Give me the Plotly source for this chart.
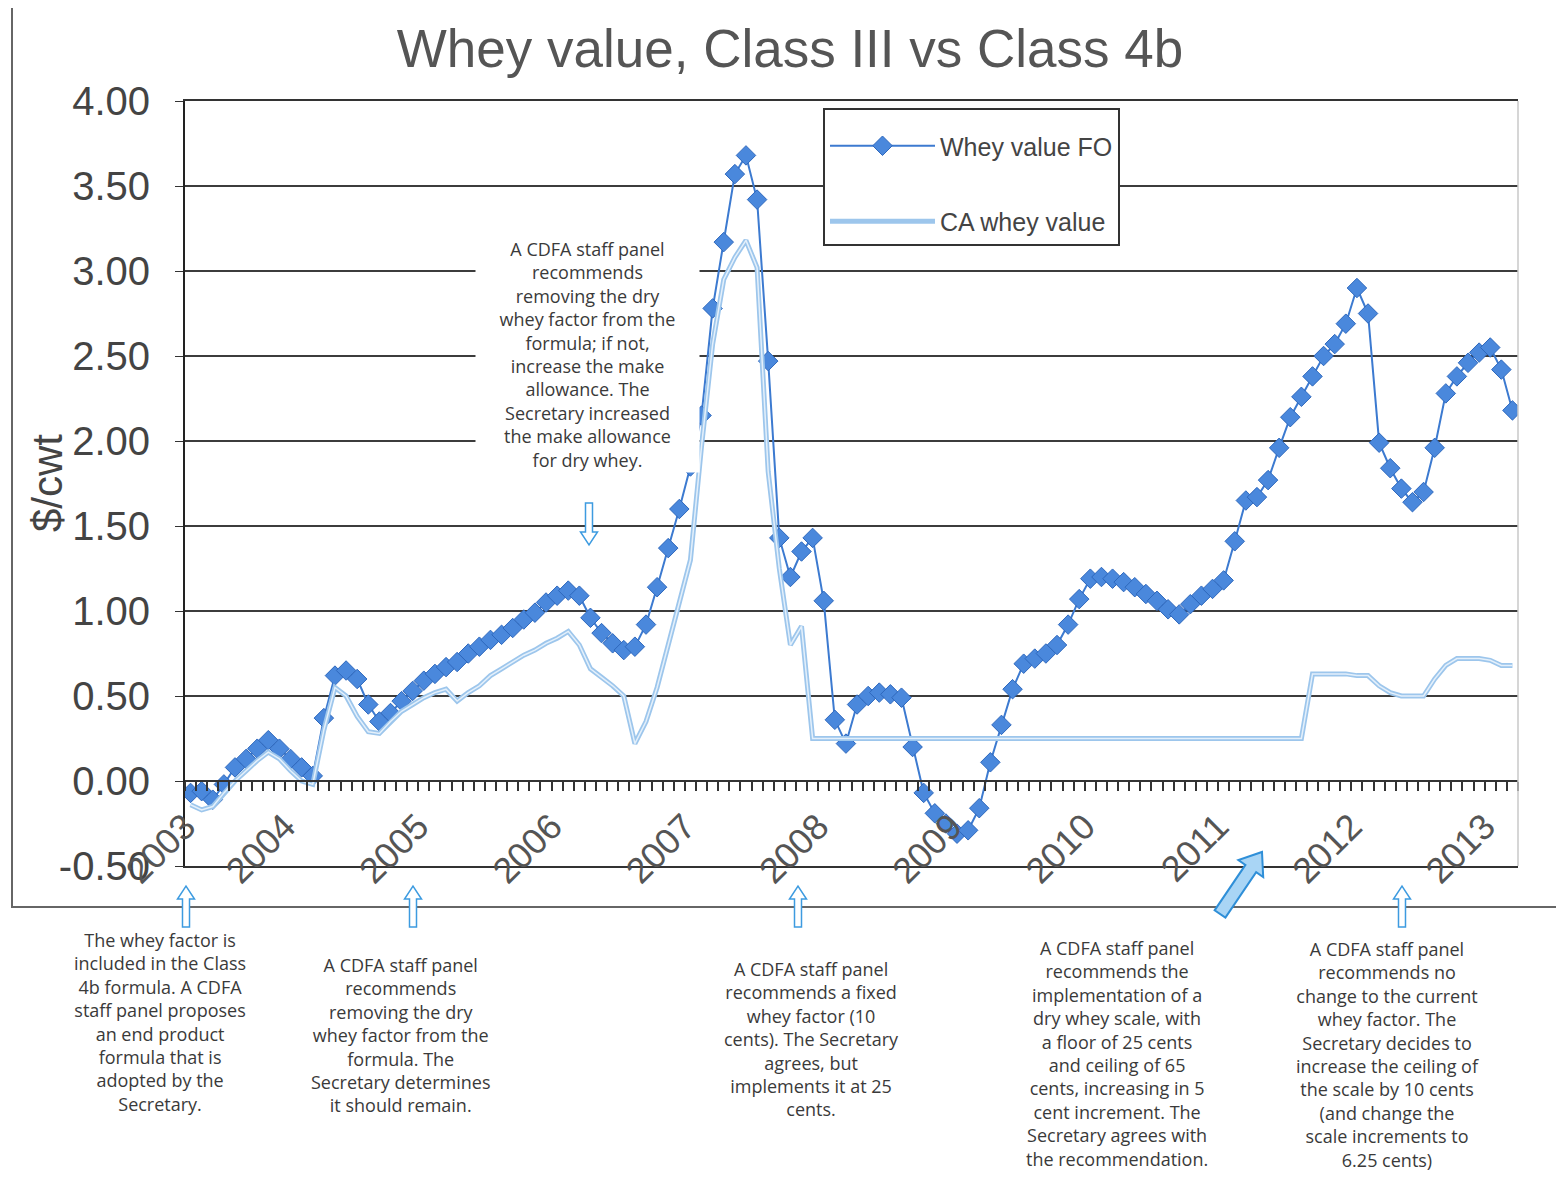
import plotly.graph_objects as go
import numpy as np

# ---------------- data ----------------
years = [str(y) for y in range(2003, 2014)]
year_label_months = [0, 9, 21, 33, 45, 57, 69, 81, 93, 105, 117]   # where the year labels sit
y_ticks = [-0.5, 0.0, 0.5, 1.0, 1.5, 2.0, 2.5, 3.0, 3.5, 4.0]
y_tick_text = ["-0.50", "0.00", "0.50", "1.00", "1.50", "2.00", "2.50", "3.00", "3.50", "4.00"]

# monthly values, Jan 2003 .. Dec 2012
fo_values = [
    -0.07, -0.06, -0.11, -0.02, 0.08, 0.13, 0.19, 0.24, 0.19, 0.13, 0.08, 0.03,   # 2003
    0.37, 0.62, 0.65, 0.60, 0.45, 0.35, 0.40, 0.47, 0.53, 0.59, 0.63, 0.67,       # 2004
    0.70, 0.75, 0.79, 0.83, 0.86, 0.90, 0.95, 0.99, 1.05, 1.09, 1.12, 1.09,       # 2005
    0.96, 0.87, 0.81, 0.77, 0.79, 0.92, 1.14, 1.37, 1.60, 1.85, 2.15, 2.78,       # 2006
    3.17, 3.57, 3.68, 3.42, 2.47, 1.43, 1.20, 1.35, 1.43, 1.06, 0.36, 0.22,       # 2007
    0.45, 0.50, 0.52, 0.51, 0.49, 0.20, -0.07, -0.19, -0.25, -0.31, -0.29, -0.16, # 2008
    0.11, 0.33, 0.54, 0.69, 0.72, 0.75, 0.80, 0.92, 1.07, 1.19, 1.20, 1.19,       # 2009
    1.17, 1.14, 1.10, 1.06, 1.01, 0.98, 1.04, 1.09, 1.13, 1.18, 1.41, 1.65,       # 2010
    1.67, 1.77, 1.96, 2.14, 2.26, 2.38, 2.50, 2.57, 2.69, 2.90, 2.75, 1.99,       # 2011
    1.84, 1.72, 1.64, 1.70, 1.96, 2.28, 2.38, 2.46, 2.52, 2.55, 2.42, 2.18,       # 2012
]

ca_values = [
    -0.14, -0.17, -0.15, -0.07, 0.00, 0.06, 0.12, 0.17, 0.13, 0.06, 0.00, -0.02,
    0.30, 0.55, 0.50, 0.38, 0.29, 0.28, 0.35, 0.41, 0.45, 0.49, 0.52, 0.54,
    0.47, 0.52, 0.56, 0.62, 0.66, 0.70, 0.74, 0.77, 0.81, 0.84, 0.88, 0.80,
    0.66, 0.61, 0.56, 0.50, 0.22, 0.35, 0.55, 0.80, 1.05, 1.30, 1.97, 2.57,
    2.95, 3.08, 3.18, 3.02, 1.82, 1.25, 0.80, 0.91, 0.25, 0.25, 0.25, 0.25,
    0.25, 0.25, 0.25, 0.25, 0.25, 0.25, 0.25, 0.25, 0.25, 0.25, 0.25, 0.25,
    0.25, 0.25, 0.25, 0.25, 0.25, 0.25, 0.25, 0.25, 0.25, 0.25, 0.25, 0.25,
    0.25, 0.25, 0.25, 0.25, 0.25, 0.25, 0.25, 0.25, 0.25, 0.25, 0.25, 0.25,
    0.25, 0.25, 0.25, 0.25, 0.25, 0.63, 0.63, 0.63, 0.63, 0.62, 0.62, 0.56,
    0.52, 0.50, 0.50, 0.50, 0.60, 0.68, 0.72, 0.72, 0.72, 0.71, 0.68, 0.68,
]

notes_below = [
    "The whey factor is<br>included in the Class<br>4b formula. A CDFA<br>staff panel proposes<br>an end product<br>formula that is<br>adopted by the<br>Secretary.",
    "A CDFA staff panel<br>recommends<br>removing the dry<br>whey factor from the<br>formula. The<br>Secretary determines<br>it should remain.",
    "A CDFA staff panel<br>recommends a fixed<br>whey factor (10<br>cents). The Secretary<br>agrees, but<br>implements it at 25<br>cents.",
    "A CDFA staff panel<br>recommends the<br>implementation of a<br>dry whey scale, with<br>a floor of 25 cents<br>and ceiling of 65<br>cents, increasing in 5<br>cent increment. The<br>Secretary agrees with<br>the recommendation.",
    "A CDFA staff panel<br>recommends no<br>change to the current<br>whey factor. The<br>Secretary decides to<br>increase the ceiling of<br>the scale by 10 cents<br>(and change the<br>scale increments to<br>6.25 cents)",
]
note_inside = ("A CDFA staff panel<br>recommends<br>removing the dry<br>whey factor from the<br>formula; if not,<br>"
               "increase the make<br>allowance. The<br>Secretary increased<br>the make allowance<br>for dry whey.")

# ---------------- geometry helpers (reference pixel coords) ----------------
OFF = 8                      # page body margin
W, H = 1564 - 2 * OFF, 1184 - 2 * OFF
L = 185 - OFF
T = 101 - OFF
R = W - (1518 - OFF)
B = H - (866 - OFF)
PW, PH = 1518 - 185, 866 - 101


def pxx(x):
    return (x - 185) / PW


def pxy(y):
    return 1 - (y - 101) / PH


def arrow_path(tail, head, shaft_w, head_w, head_len):
    tx, ty = tail
    hx, hy = head
    dx, dy = hx - tx, hy - ty
    ln = (dx * dx + dy * dy) ** 0.5
    ux, uy = dx / ln, dy / ln
    nx, ny = -uy, ux
    bx, by = hx - ux * head_len, hy - uy * head_len
    pts = [
        (tx + nx * shaft_w / 2, ty + ny * shaft_w / 2),
        (bx + nx * shaft_w / 2, by + ny * shaft_w / 2),
        (bx + nx * head_w / 2, by + ny * head_w / 2),
        (hx, hy),
        (bx - nx * head_w / 2, by - ny * head_w / 2),
        (bx - nx * shaft_w / 2, by - ny * shaft_w / 2),
        (tx - nx * shaft_w / 2, ty - ny * shaft_w / 2),
    ]
    return "M " + " L ".join(f"{pxx(a):.5f},{pxy(b):.5f}" for a, b in pts) + " Z"


x_pos = np.arange(len(fo_values)) + 0.5
n_months = len(fo_values)

fig = go.Figure()
fig.add_trace(go.Scatter(
    x=x_pos, y=fo_values, mode="lines+markers", name="Whey value FO",
    legendgroup="fo",
    line=dict(color="#3c7ad0", width=2),
    marker=dict(symbol="diamond", size=15, color="#4a88dc",
                line=dict(color="#2e68bd", width=1)),
))
fig.add_trace(go.Scatter(
    x=x_pos, y=ca_values, mode="lines", name="CA whey value",
    legendgroup="ca",
    line=dict(color="#9dc6ec", width=5),
))
fig.add_trace(go.Scatter(
    x=x_pos, y=ca_values, mode="lines", name="CA whey value",
    legendgroup="ca", showlegend=False, hoverinfo="skip", xaxis="x2",
    line=dict(color="#e4f0fb", width=1.5),
))

axis_font = "Liberation Sans"
note_font = dict(family="Open Sans", size=18, color="#3a3a3a")
fig.update_layout(
    template="none",
    width=W, height=H,
    margin=dict(l=L, r=R, t=T, b=B),
    paper_bgcolor="white", plot_bgcolor="white",
    title=dict(text="Whey value, Class III vs Class 4b", x=(790 - OFF) / W, xanchor="center",
               y=1 - (48 - OFF) / H, yanchor="middle",
               font=dict(family=axis_font, size=53, color="#555555")),
    xaxis=dict(range=[0, n_months], showticklabels=False, ticks="", showgrid=False,
               zeroline=False, showline=True, mirror=True, linecolor="#333333", linewidth=2),
    xaxis2=dict(overlaying="x", anchor="free", position=0.5 / 4.5, range=[0, n_months],
                tickmode="array", tickvals=year_label_months, ticktext=years,
                tickangle=-45, ticks="outside", ticklen=9, tickwidth=1.5, tickcolor="#333333",
                tickfont=dict(family=axis_font, size=36, color="#555555"),
                showline=True, linecolor="#333333", linewidth=2, showgrid=False, zeroline=False,
                minor=dict(ticks="outside", tickmode="linear", tick0=0, dtick=1, ticklen=9,
                           tickwidth=1.5, tickcolor="#333333", showgrid=False)),
    yaxis=dict(range=[-0.5, 4.0], tickmode="array", tickvals=y_ticks, ticktext=y_tick_text,
               showgrid=True, gridcolor="#3c3c3c", gridwidth=2, zeroline=False,
               showline=True, linecolor="#222222", linewidth=2, ticks="outside", ticklen=8,
               tickcolor="#333333", ticklabelstandoff=17,
               tickfont=dict(family=axis_font, size=40, color="#444444")),
    legend=dict(x=pxx(823), y=pxy(108), xanchor="left", yanchor="top",
                bgcolor="white", bordercolor="#333333", borderwidth=2,
                font=dict(family=axis_font, size=25, color="#444444"),
                title=dict(text=" ", font=dict(size=10)),
                itemwidth=105, tracegroupgap=40, traceorder="grouped"),
    showlegend=True,
)

annotations = [
    dict(text="$/cwt", textangle=-90, x=pxx(47), y=pxy(483), xref="paper", yref="paper",
         xanchor="center", yanchor="middle",
         showarrow=False, font=dict(family=axis_font, size=42, color="#444444")),
    dict(text=note_inside, x=pxx(587), y=pxy(236), xref="paper", yref="paper",
         xanchor="center", yanchor="top", align="center", showarrow=False,
         bgcolor="white", width=223, borderpad=0, font=note_font),
]
note_pos = [(160, 926), (400, 951), (811, 955), (1117, 934), (1387, 935)]
for txt, (cx, ty) in zip(notes_below, note_pos):
    annotations.append(dict(text=txt, x=pxx(cx), y=pxy(ty), xref="paper", yref="paper",
                            xanchor="center", yanchor="top", align="center", showarrow=False,
                            font=note_font))
fig.update_layout(annotations=annotations)

shapes = [
    dict(type="rect", xref="paper", yref="paper", x0=pxx(12), x1=pxx(1561), y0=pxy(907), y1=pxy(-20),
         line=dict(color="#666666", width=2), fillcolor="rgba(0,0,0,0)", layer="below"),
    dict(type="line", xref="paper", yref="paper", x0=1, x1=1, y0=0, y1=1,
         line=dict(color="#c8c8c8", width=1.5)),
]
for cx in [186, 413, 798, 1402]:
    shapes.append(dict(type="path", xref="paper", yref="paper",
                       path=arrow_path((cx, 927), (cx, 886), 7, 17, 13),
                       line=dict(color="#3d9be0", width=1.5), fillcolor="white"))
shapes.append(dict(type="path", xref="paper", yref="paper",
                   path=arrow_path((589, 503), (589, 545), 7, 17, 13),
                   line=dict(color="#3d9be0", width=1.5), fillcolor="white"))
shapes.append(dict(type="path", xref="paper", yref="paper",
                   path=arrow_path((1220, 914), (1262, 852), 13, 30, 20),
                   line=dict(color="#2f8fd8", width=2), fillcolor="#a9d5f5"))
fig.update_layout(shapes=shapes)

fig.write_html("out.html")
